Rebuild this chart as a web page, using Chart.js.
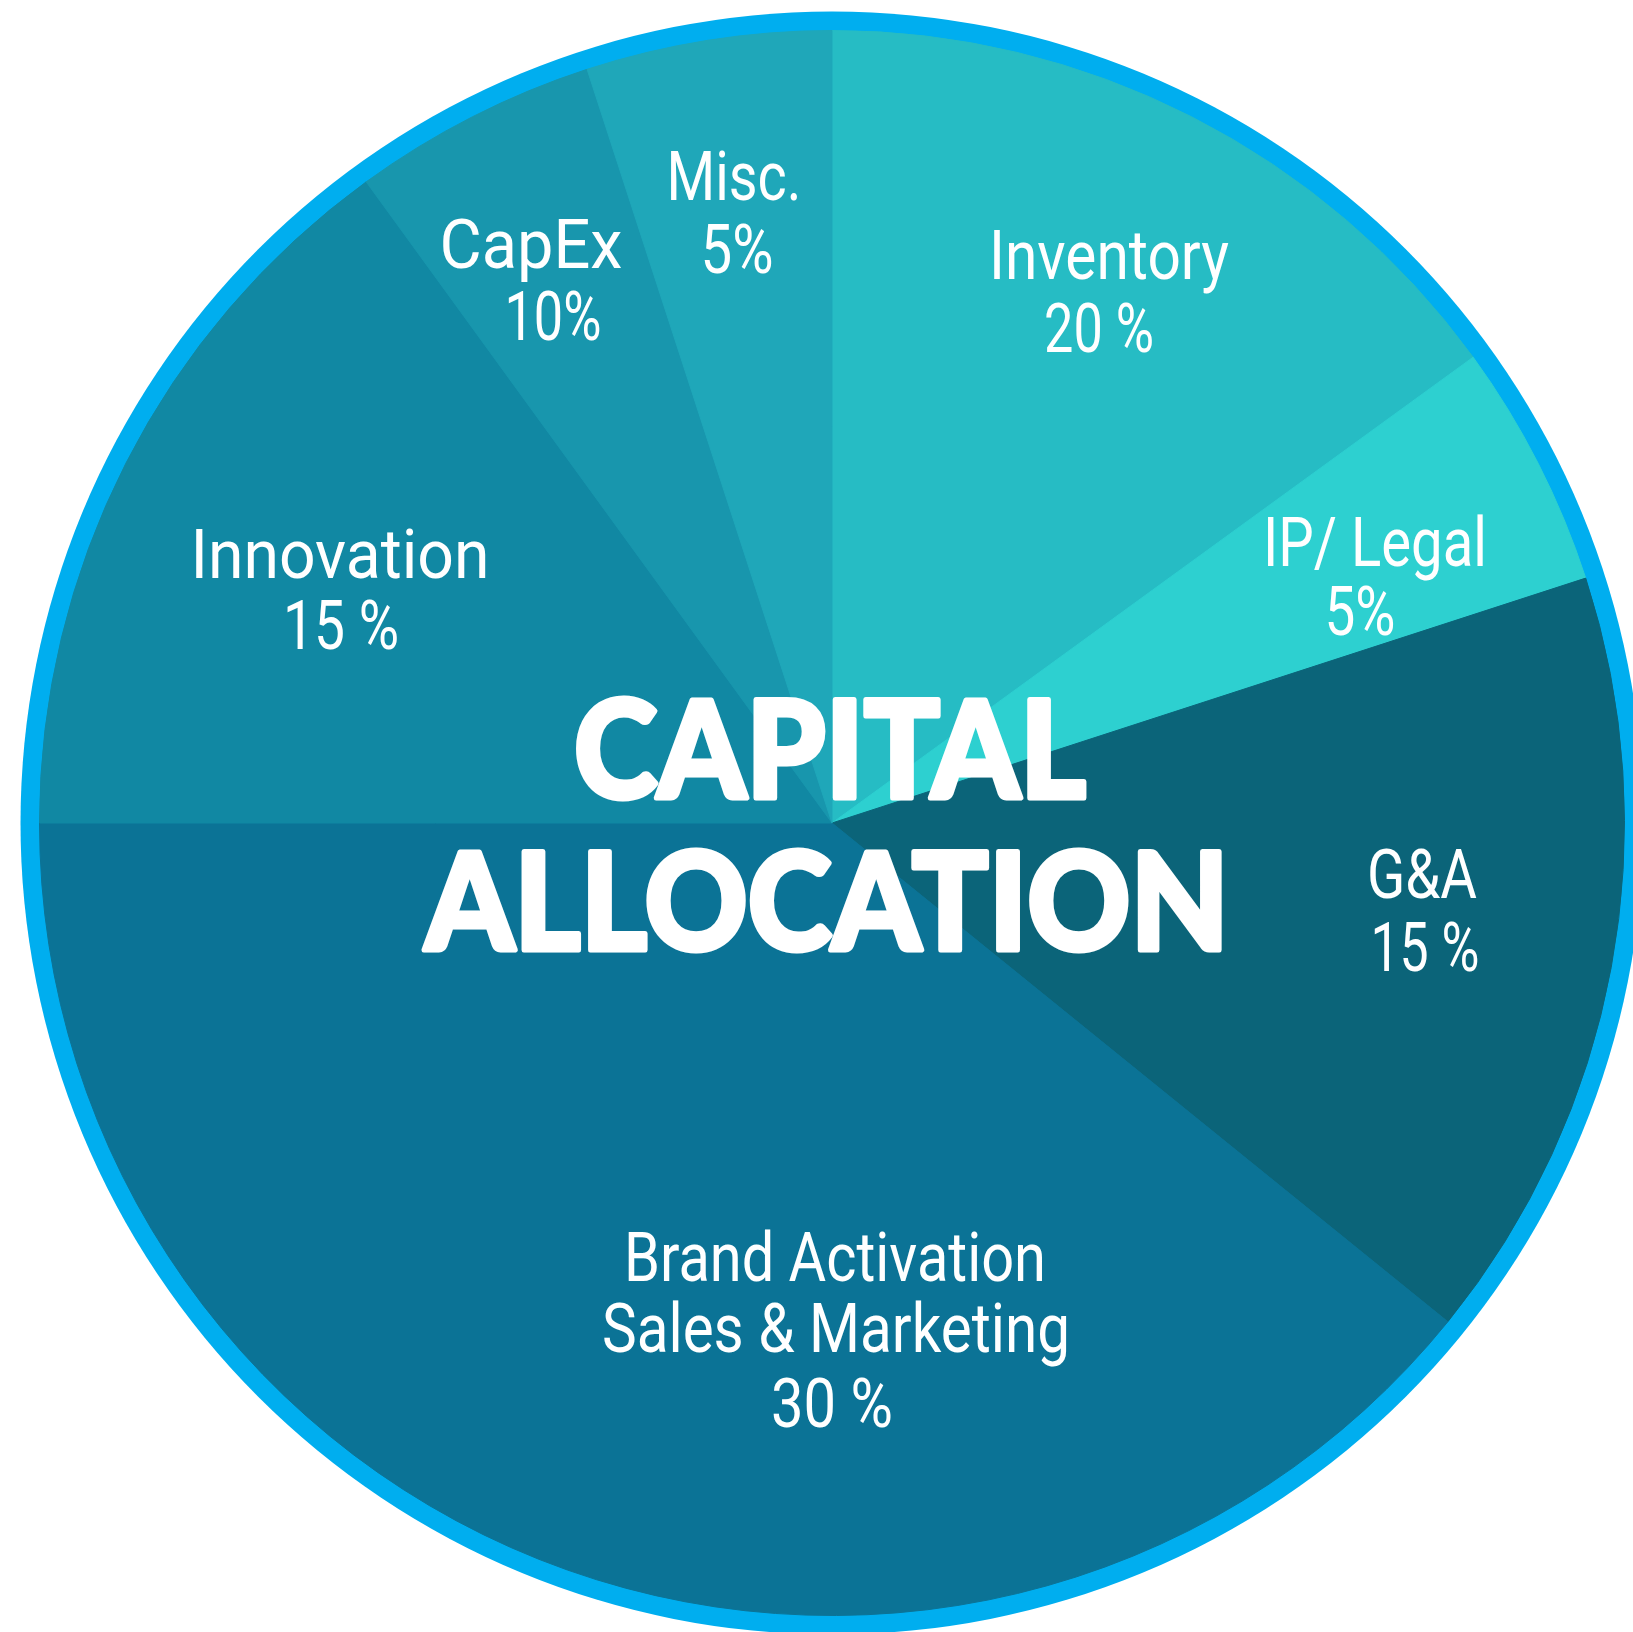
<!DOCTYPE html>
<html>
<head>
<meta charset="utf-8">
<title>Capital Allocation</title>
<script src="https://cdn.jsdelivr.net/npm/chart.js@4.4.1/dist/chart.umd.min.js"></script>
<style>
    html, body { margin: 0; padding: 0; background: #ffffff; overflow: hidden; }
    body { width: 1633px; height: 1632px; position: relative; }
    #wrap { position: absolute; left: 20px; top: 11px; width: 1624px; height: 1624px; }
</style>
</head>
<body>
<div id="wrap"><canvas id="allocChart"></canvas></div>
<script>
// Categories, clockwise from 12 o'clock
const categories = ['Inventory', 'IP/ Legal', 'G&A', 'Brand Activation Sales & Marketing', 'Innovation', 'CapEx', 'Misc.'];
// Label lines as printed in the picture
const labelLines = [
    ['Inventory'],
    ['IP/ Legal'],
    ['G&A'],
    ['Brand Activation', 'Sales & Marketing'],
    ['Innovation'],
    ['CapEx'],
    ['Misc.']
];
const percentText = ['20 %', '5%', '15 %', '30 %', '15 %', '10%', '5%'];
// Slice sizes as drawn (degrees of arc)
const sliceAngles = [54, 18, 57, 141, 54, 18, 18];

const sliceColors = ['#26bcc4', '#2dd0d0', '#0b6479', '#0b7396', '#1188a3', '#1896ad', '#1fa7b9'];
const ringColor = '#00aeef';
const ringWidth = 19;

// label placement: offset of each line's centre/baseline from the pie centre, and its printed width
const labelLayout = [
    [[277, -544, 240], [267, -471, 110]],
    [[543, -257, 224], [528, -188, 71]],
    [[590, 75, 110], [593, 148, 109]],
    [[3, 458, 422], [4, 529, 468], [0, 604, 122]],
    [[-492, -245, 299], [-491, -174, 116]],
    [[-301, -555, 183], [-279, -483, 97]],
    [[-98, -623, 135], [-95, -550, 73]]
];
const titleLines = ['CAPITAL', 'ALLOCATION'];
const titleLayout = [[-2, -25, 512], [-5, 127, 804]];

// draw text squeezed/stretched to a given width (optional stroke to fatten it)
function fitText(ctx, text, x, y, width, stroke) {
    const w = ctx.measureText(text).width;
    ctx.save();
    ctx.translate(x, y);
    ctx.scale(width / w, 1);
    ctx.textAlign = 'center';
    ctx.fillText(text, 0, 0);
    if (stroke) {
        ctx.lineWidth = stroke;
        ctx.lineJoin = 'round';
        ctx.strokeText(text, 0, 0);
    }
    ctx.restore();
}

const ringPlugin = {
    id: 'ring',
    beforeDatasetsDraw(chart) {
        const arc = chart.getDatasetMeta(0).data[0];
        if (!arc) return;
        const ctx = chart.ctx;
        ctx.save();
        ctx.beginPath();
        ctx.arc(arc.x, arc.y, arc.outerRadius + ringWidth, 0, Math.PI * 2);
        ctx.fillStyle = ringColor;
        ctx.fill();
        ctx.restore();
    }
};

const labelPlugin = {
    id: 'sliceLabels',
    afterDatasetsDraw(chart) {
        const arc = chart.getDatasetMeta(0).data[0];
        if (!arc) return;
        const cx = arc.x, cy = arc.y;
        const ctx = chart.ctx;
        ctx.save();
        ctx.fillStyle = '#ffffff';
        ctx.strokeStyle = '#ffffff';
        ctx.textBaseline = 'alphabetic';
        ctx.font = '400 69px Roboto, "DejaVu Sans Condensed", sans-serif';
        labelLines.forEach((lines, i) => {
            const all = lines.concat([percentText[i]]);
            all.forEach((txt, j) => {
                const p = labelLayout[i][j];
                fitText(ctx, txt, cx + p[0], cy + p[1], p[2]);
            });
        });
        ctx.font = '900 136px Lato, "Open Sans", "Noto Sans", sans-serif';
        titleLines.forEach((txt, j) => {
            const p = titleLayout[j];
            fitText(ctx, txt, cx + p[0], cy + p[1], p[2], 5);
        });
        ctx.restore();
    }
};

const ctx = document.getElementById('allocChart').getContext('2d');
window.allocChart = new Chart(ctx, {
    type: 'pie',
    data: {
        labels: categories,
        datasets: [{
            data: sliceAngles,
            backgroundColor: sliceColors,
            borderColor: sliceColors,
            borderWidth: 1
        }]
    },
    options: {
        responsive: true,
        maintainAspectRatio: false,
        animation: false,
        layout: { padding: ringWidth },
        plugins: {
            legend: { display: false },
            tooltip: { enabled: false }
        }
    },
    plugins: [ringPlugin, labelPlugin]
});
</script>
</body>
</html>
